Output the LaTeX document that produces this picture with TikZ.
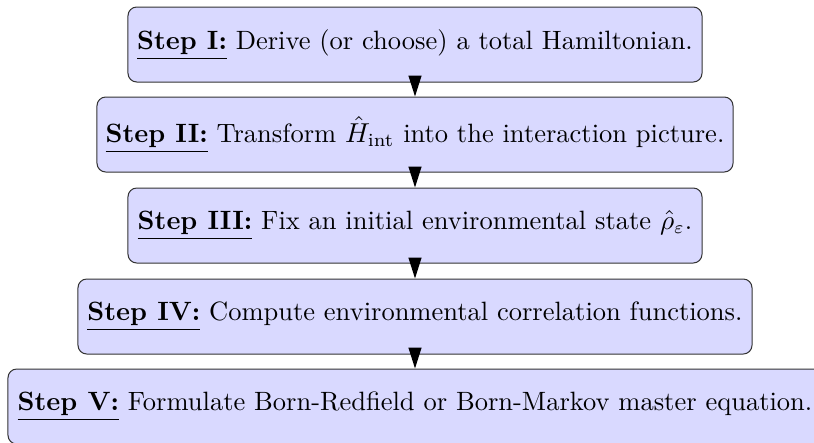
\documentclass[tikz,border=0pt]{standalone}
\usepackage{amsmath}
\usepackage{fontspec}
\usetikzlibrary{arrows.meta}
\tikzset{
  stepbox/.style={draw=black!80, fill=blue!15, rounded corners=3.5pt, minimum height=30pt, inner sep=0pt, align=center, anchor=center, font=\fontsize{10.6}{13}\selectfont},
  flowarrow/.style={-{Triangle[width=5.2pt,length=8.4pt]}, black, line width=0.5pt}
}
\begin{document}
\begin{tikzpicture}[x=0.4pt, y=-0.4pt]
\useasboundingbox (0,0) rectangle (814,442);
\clip (0,0) rectangle (814,442);
\node[stepbox, minimum width=229.6pt] (s1) at (415,44.5) {\underline{\textbf{Step I:}} Derive (or choose) a total Hamiltonian.};
\node[stepbox, minimum width=254.4pt] (s2) at (415,134.5) {\underline{\textbf{Step II:}} Transform $\hat{H}_{\text{int}}$ into the interaction picture.};
\node[stepbox, minimum width=229.6pt] (s3) at (415,225.5) {\underline{\textbf{Step III:}} Fix an initial environmental state $\hat{\rho}_{\varepsilon}$.};
\node[stepbox, minimum width=269.6pt] (s4) at (415,316.5) {\underline{\textbf{Step IV:}} Compute environmental correlation functions.};
\node[stepbox, minimum width=325.6pt] (s5) at (415,406.5) {\underline{\textbf{Step V:}} Formulate Born-Redfield or Born-Markov master equation.};
\draw[flowarrow] (s1.south) -- (s2.north);
\draw[flowarrow] (s2.south) -- (s3.north);
\draw[flowarrow] (s3.south) -- (s4.north);
\draw[flowarrow] (s4.south) -- (s5.north);
\end{tikzpicture}
\end{document}
